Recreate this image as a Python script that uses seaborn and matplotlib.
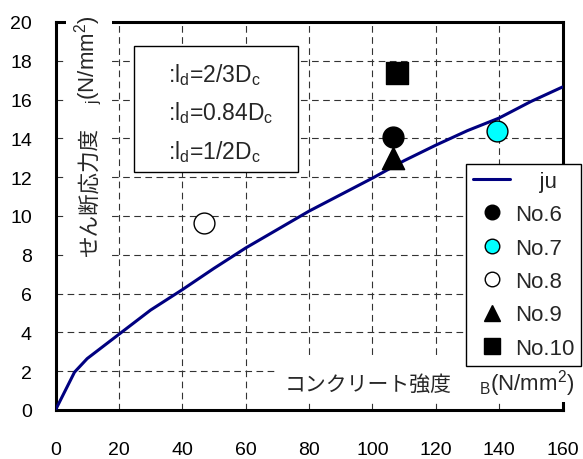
import matplotlib
matplotlib.use('Agg')
import matplotlib.pyplot as plt
import seaborn as sns
from matplotlib.lines import Line2D
from matplotlib.patches import Rectangle

# ---------------- data ----------------
ju_x = [0, 6, 10, 20, 30, 40, 50, 60, 70, 80, 90, 100, 110, 120, 130, 140, 150, 160]
ju_y = [0, 1.95, 2.65, 3.9, 5.15, 6.2, 7.3, 8.35, 9.3, 10.25, 11.1, 11.95, 12.85, 13.65, 14.4, 15.05, 15.9, 16.65]

spec_names = ["No.6", "No.7", "No.8", "No.9", "No.10"]
spec_x = [106.5, 139.3, 46.9, 106.5, 107.9]
spec_y = [14.05, 14.4, 9.63, 13.0, 17.38]

line_label = "    ju"
box_lines = [":l$_{\\mathregular{d}}$=2/3D$_{\\mathregular{c}}$",
             ":l$_{\\mathregular{d}}$=0.84D$_{\\mathregular{c}}$",
             ":l$_{\\mathregular{d}}$=1/2D$_{\\mathregular{c}}$"]
ylabel_jp = "せん断応力度"
ylabel_unit = "$_{\\mathregular{j}}$(N/mm$^{\\mathregular{2}}$)"
xlabel_jp = "コンクリート強度"
xlabel_unit = "$_{\\mathregular{B}}$(N/mm$^{\\mathregular{2}}$)"
x_ticks = list(range(0, 161, 20))
y_ticks = list(range(0, 21, 2))

# styles
spec_marker = ["o", "o", "o", "^", "s"]
spec_face = ["black", "#00FFFF", "white", "black", "black"]
spec_size = [225, 225, 225, 256, 250]
leg_ms = [10.5, 10.5, 10.5, 11.5, 11]
line_color = "#000080"

# ---------------- figure ----------------
sns.set_theme(style="white")
plt.rcParams['font.family'] = ['Liberation Sans', 'Noto Sans CJK JP', 'DejaVu Sans']
plt.rcParams['mathtext.fontset'] = 'custom'
plt.rcParams['mathtext.rm'] = 'Liberation Sans'
plt.rcParams['mathtext.it'] = 'Liberation Sans:italic'
plt.rcParams['mathtext.bf'] = 'Liberation Sans:bold'

W, H = 583, 460
fig = plt.figure(figsize=(W / 100, H / 100), dpi=100)


def fx(px):
    return px / W


def fy(py):
    return 1 - py / H


ax = fig.add_axes([fx(55.5), fy(411), fx(562.5) - fx(55.5), fy(23) - fy(411)])

sns.lineplot(x=ju_x, y=ju_y, ax=ax, color=line_color, lw=2.2, zorder=4)
for i in range(len(spec_names)):
    sns.scatterplot(x=[spec_x[i]], y=[spec_y[i]], ax=ax, marker=spec_marker[i],
                    s=spec_size[i], color=spec_face[i], edgecolor="black",
                    linewidth=1.0, zorder=5, legend=False)

ax.set_xlim(0, 160)
ax.set_ylim(0, 20)
ax.set_xticks(x_ticks)
ax.set_yticks(y_ticks)
ax.set_xlabel("")
ax.set_ylabel("")
ax.grid(True, color="#333333", lw=0.8, ls=(0, (6, 4)))
ax.tick_params(direction="in", length=5, width=1.2, labelsize=14, colors="black")
ax.tick_params(axis="x", pad=22)
ax.tick_params(axis="y", pad=17)
for s in ax.spines.values():
    s.set_linewidth(2.2)
    s.set_color("black")

# legend
handles = [Line2D([], [], color=line_color, lw=2.2)]
for i in range(len(spec_names)):
    handles.append(Line2D([], [], ls="none", marker=spec_marker[i], ms=leg_ms[i],
                          mfc=spec_face[i], mec="black", mew=1.0))
leg = ax.legend(handles, [line_label] + spec_names, loc="upper left",
                bbox_to_anchor=(fx(466), fy(165)), bbox_transform=fig.transFigure,
                borderaxespad=0, frameon=True, fancybox=False, edgecolor="black",
                framealpha=1, fontsize=16, handlelength=1.7, handletextpad=0.2,
                labelspacing=0.56, borderpad=0.3)
leg.get_frame().set_linewidth(1.0)

# text box
ax.add_patch(Rectangle((fx(134), fy(173)), fx(298) - fx(134), fy(47) - fy(173),
                       transform=fig.transFigure, fc="white", ec="black", lw=1,
                       zorder=3.5, clip_on=False))
for txt, by in zip(box_lines, [82, 120.5, 159]):
    ax.text(fx(168), fy(by), txt, transform=fig.transFigure, fontsize=16.5,
            ha="left", va="baseline", zorder=4)

# x label with white background
ax.add_patch(Rectangle((fx(278), fy(403)), fx(583) - fx(278), fy(357) - fy(403),
                       transform=fig.transFigure, fc="white", ec="none",
                       zorder=2.8, clip_on=False))
ax.text(fx(285), fy(391), xlabel_jp, transform=fig.transFigure, fontsize=15,
        family="Noto Sans CJK JP", ha="left", va="baseline", zorder=4, clip_on=False)
ax.text(fx(479), fy(391), xlabel_unit, transform=fig.transFigure, fontsize=16,
        ha="left", va="baseline", zorder=4, clip_on=False)

# y label with white background
ax.add_patch(Rectangle((fx(66), fy(266)), fx(112) - fx(66), fy(2) - fy(266),
                       transform=fig.transFigure, fc="white", ec="none",
                       zorder=2.8, clip_on=False))
ax.text(fx(96), fy(257), ylabel_jp, transform=fig.transFigure, fontsize=15.5,
        family="Noto Sans CJK JP", rotation=90, rotation_mode="anchor",
        ha="left", va="baseline", zorder=4, clip_on=False)
ax.text(fx(94), fy(104), ylabel_unit, transform=fig.transFigure, fontsize=16,
        rotation=90, rotation_mode="anchor", ha="left", va="baseline",
        zorder=4, clip_on=False)

fig.savefig("out.png", dpi=100)
